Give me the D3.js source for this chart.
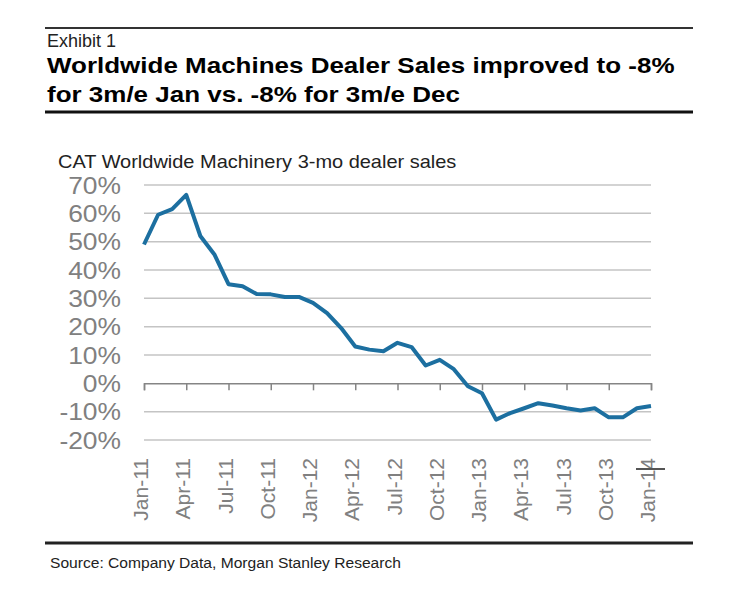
<!DOCTYPE html>
<html>
<head>
<meta charset="utf-8">
<script src="https://cdn.jsdelivr.net/npm/d3@7"></script>
<style>
  html, body { margin: 0; padding: 0; background: #fff; }
  svg { display: block; font-family: Arial, "Liberation Sans", sans-serif; }
</style>
</head>
<body>
<svg id="chart" width="736" height="598"></svg>
<script>
const months = ["Jan-11","Feb-11","Mar-11","Apr-11","May-11","Jun-11","Jul-11","Aug-11","Sep-11","Oct-11","Nov-11","Dec-11",
  "Jan-12","Feb-12","Mar-12","Apr-12","May-12","Jun-12","Jul-12","Aug-12","Sep-12","Oct-12","Nov-12","Dec-12",
  "Jan-13","Feb-13","Mar-13","Apr-13","May-13","Jun-13","Jul-13","Aug-13","Sep-13","Oct-13","Nov-13","Dec-13","Jan-14"];
const sales = [49, 59.5, 61.5, 66.5, 52, 45.5, 35, 34.3, 31.5, 31.4, 30.5, 30.5,
  28.4, 24.8, 19.5, 13, 11.9, 11.3, 14.3, 12.8, 6.3, 8.3, 5, -1,
  -3.5, -12.8, -10.5, -8.8, -7, -7.8, -8.8, -9.6, -8.8, -12, -12, -8.8, -8];
const tickMonths = ["Jan-11","Apr-11","Jul-11","Oct-11","Jan-12","Apr-12","Jul-12","Oct-12","Jan-13","Apr-13","Jul-13","Oct-13","Jan-14"];
const yTicks = [70, 60, 50, 40, 30, 20, 10, 0, -10, -20];

const exhibitText = "Exhibit 1";
const titleLines = ["Worldwide Machines Dealer Sales improved to -8%", "for 3m/e Jan vs. -8% for 3m/e Dec"];
const subtitleText = "CAT Worldwide Machinery 3-mo dealer sales";
const sourceText = "Source: Company Data, Morgan Stanley Research";

const svg = d3.select("#chart");

const x = d3.scalePoint().domain(months).range([144, 651]);
const y = d3.scaleLinear().domain([-20, 70]).range([440, 185]);

// Header rules and text
svg.append("line").attr("x1", 45).attr("x2", 693).attr("y1", 28).attr("y2", 28)
  .attr("stroke", "#333").attr("stroke-width", 2);
svg.append("text").attr("x", 47).attr("y", 47).attr("font-size", 18).attr("fill", "#222").text(exhibitText);
titleLines.forEach((t, i) => {
  svg.append("text")
    .attr("transform", `translate(47,${73 + i * 29}) scale(1.155,1)`)
    .attr("font-size", 22.5).attr("font-weight", "bold").attr("fill", "#000").text(t);
});
svg.append("line").attr("x1", 45).attr("x2", 693).attr("y1", 112).attr("y2", 112)
  .attr("stroke", "#111").attr("stroke-width", 3);

svg.append("text").attr("transform", "translate(58,168) scale(1.11,1)")
  .attr("font-size", 18).attr("fill", "#222").text(subtitleText);

// Gridlines
svg.append("g").selectAll("line").data(yTicks.filter(d => d !== 0)).join("line")
  .attr("x1", 144).attr("x2", 651)
  .attr("y1", d => y(d)).attr("y2", d => y(d))
  .attr("stroke", "#c4c4c4").attr("stroke-width", 1.5);

// Y labels
svg.append("g").selectAll("text").data(yTicks).join("text")
  .attr("transform", d => `translate(121,${y(d)}) scale(1.1,1)`)
  .attr("text-anchor", "end").attr("dy", "0.36em")
  .attr("font-size", 24).attr("fill", "#808080")
  .text(d => d + "%");

// Zero axis with ticks
const xAxis = d3.axisBottom(x).tickValues(tickMonths).tickSize(7).tickFormat("");
const gx = svg.append("g").attr("transform", `translate(0,${y(0)})`).call(xAxis);
gx.select(".domain").attr("stroke", "#858585").attr("stroke-width", 1.5);
gx.selectAll(".tick line").attr("stroke", "#858585").attr("stroke-width", 1.5);

// X labels
svg.append("g").selectAll("text").data(tickMonths).join("text")
  .attr("transform", d => `translate(${x(d) + 4},458) rotate(-90)`)
  .attr("text-anchor", "end")
  .attr("font-size", 21).attr("fill", "#808080")
  .text(d => d);

// artifact mark near last label
svg.append("line").attr("x1", 636).attr("x2", 665).attr("y1", 469).attr("y2", 469)
  .attr("stroke", "#555").attr("stroke-width", 2);

// Line
const line = d3.line().x((d, i) => x(months[i])).y(d => y(d));
svg.append("path").datum(sales).attr("d", line)
  .attr("fill", "none").attr("stroke", "#1c6fa0").attr("stroke-width", 4)
  .attr("stroke-linejoin", "round").attr("stroke-linecap", "butt");

// Footer
svg.append("line").attr("x1", 45).attr("x2", 693).attr("y1", 543).attr("y2", 543)
  .attr("stroke", "#222").attr("stroke-width", 3);
svg.append("text").attr("transform", "translate(50,568) scale(1.02,1)")
  .attr("font-size", 15.3).attr("fill", "#222").text(sourceText);
</script>
</body>
</html>
